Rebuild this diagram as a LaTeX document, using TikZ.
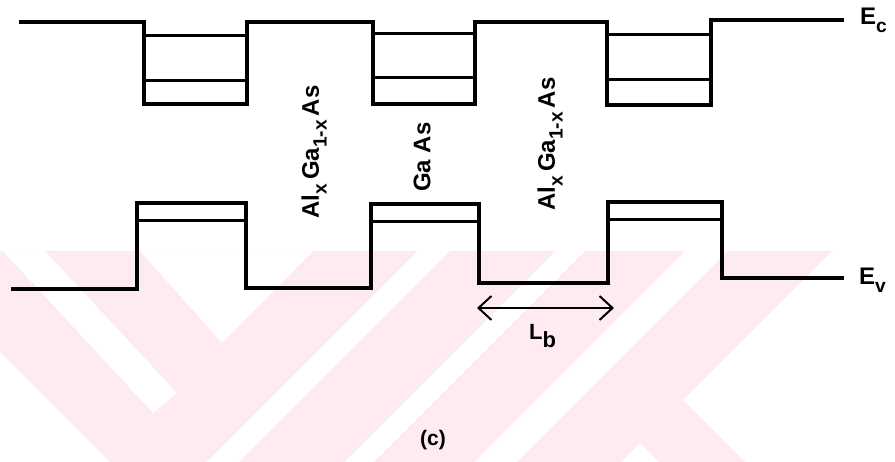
\documentclass[tikz,border=0pt]{standalone}
\usepackage{fontspec}
\setmainfont{Liberation Sans}
\usepackage{graphicx}
\usetikzlibrary{arrows.meta}
\definecolor{wmpink}{RGB}{253,235,239}
\newcommand\mysub[1]{\raisebox{-0.32em}{\scalebox{0.8}{#1}}}
\begin{document}
\begin{tikzpicture}[x=1pt,y=-1pt,
  band/.style={line width=3.2pt, line join=miter},
  level/.style={line width=3pt},
  lbl/.style={font=\fontsize{24}{27}\selectfont\bfseries, inner sep=0pt},
  wm/.style={fill=wmpink, draw=none},
  wmgap/.style={fill=white, draw=none}]
\useasboundingbox (0,0) rectangle (895,462);
\fill[white] (0,0) rectangle (895,462);
% watermark
\fill[wm] (0,251) -- (417,251) -- (206,462) -- (110,462) -- (0,352) -- cycle;
\fill[wmgap] (3,251) -- (45,251) -- (177,393) -- (153,413) -- cycle;
\fill[wmgap] (140,251) -- (313,251) -- (222,343) -- cycle;
\fill[wm] (450,251) -- (555,251) -- (344,462) -- (239,462) -- cycle;
\fill[wm] (585,251) -- (685,251) -- (474,462) -- (374,462) -- cycle;
\fill[wm] (728,251) -- (832,251) -- (621,462) -- (517,462) -- cycle;
\fill[wm] (683,400) -- (745,462) -- (659,462) -- (640,443) -- cycle;
% conduction band
\draw[band] (19,22) -- (144,22) -- (144,104) -- (247,104) -- (247,22) -- (373,22)
  -- (373,104) -- (475,104) -- (475,22) -- (607,22) -- (607,105) -- (711,105)
  -- (711,20) -- (844,20);
\draw[level] (144,36) -- (247,36);
\draw[level] (144,81) -- (247,81);
\draw[level] (373,34) -- (475,34);
\draw[level] (373,78) -- (475,78);
\draw[level] (607,35) -- (711,35);
\draw[level] (607,80) -- (711,80);
% valence band
\draw[band] (11,289) -- (137,289) -- (137,203) -- (246,203) -- (246,288) -- (371,288)
  -- (371,204) -- (479,204) -- (479,283) -- (608,283) -- (608,202) -- (722,202)
  -- (722,278) -- (844,278);
\draw[level] (137,221) -- (246,221);
\draw[level] (371,222) -- (479,222);
\draw[level] (608,220) -- (722,220);
% labels
\node[lbl, rotate=90] (al1) at (314,152) {Al\mysub{x}\,Ga\mysub{1-x}\,As};
\node[lbl, rotate=90] (gaas) at (422,157) {Ga As};
\node[lbl, rotate=90] (al2) at (550,144) {Al\mysub{x}\,Ga\mysub{1-x}\,As};
\node[lbl, anchor=base west] (ec) at (860,25) {E\mysub{c}};
\node[lbl, anchor=base west] (ev) at (859,285) {E\mysub{v}};
\coordinate (lbA) at (477,308);
\coordinate (lbB) at (614,308);
\draw[line width=2pt, {Straight Barb[length=13pt,width=24pt]}-{Straight Barb[length=13pt,width=24pt]}] (lbA) -- (lbB);
\node[lbl, font=\fontsize{22}{25}\selectfont\bfseries, anchor=base west] (lb) at (529,340) {L\raisebox{-0.36em}{b}};
\node[lbl, font=\fontsize{21}{24}\selectfont\bfseries] (cap) at (433,440) {(c)};
\end{tikzpicture}
\end{document}
